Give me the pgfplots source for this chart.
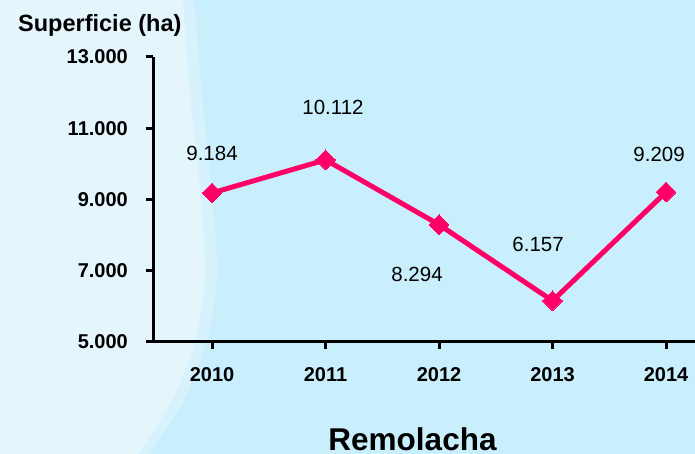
\documentclass[border=0pt]{standalone}
\usepackage{pgfplots}
\usepackage{pgfplotstable}
\pgfplotsset{compat=1.18}
\usepackage{fontspec}
\setmainfont{Liberation Sans}
\definecolor{bgR}{RGB}{201,238,252}
\definecolor{bgL}{RGB}{228,245,252}
\definecolor{bgM}{RGB}{215,242,252}
\definecolor{lineC}{RGB}{255,0,102}
\pgfplotstableread{
x y dx dy lab
2010 9184 0 39 9.184
2011 10112 7.5 52 10.112
2012 8294 -22 -50 8.294
2013 6157 -14.5 56 6.157
2014 9209 -7 38 9.209
}\datatable
\begin{document}
\begin{tikzpicture}
\path[use as bounding box] (0pt,0pt) rectangle (695pt,454pt);
\fill[bgR] (0pt,0pt) rectangle (695pt,454pt);
\fill[bgM] (0pt,0pt) -- plot[smooth] coordinates {(150pt,0pt) (184pt,54pt) (207pt,114pt) (217pt,180pt) (212pt,260pt) (202pt,360pt) (194pt,454pt)} -- (0pt,454pt) -- cycle;
\fill[bgL] (0pt,0pt) -- plot[smooth] coordinates {(138pt,0pt) (172pt,54pt) (195pt,114pt) (205pt,180pt) (200pt,260pt) (190pt,360pt) (183pt,454pt)} -- (0pt,454pt) -- cycle;
\begin{axis}[
  at={(153pt,112pt)}, anchor=south west,
  scale only axis, width=542pt, height=285pt,
  xmin=2009.48, xmax=2014.255, ymin=5000, ymax=13000,
  scaled ticks=false,
  axis x line=bottom, axis y line=left,
  axis line style={-, line width=3pt, black},
  tick align=outside,
  tickwidth=7pt,
  tick style={black, line width=3pt},
  xtick={2010,2011,2012,2013,2014},
  xticklabels={2010,2011,2012,2013,2014},
  ytick={5000,7000,9000,11000,13000},
  yticklabels={5.000,7.000,9.000,11.000,13.000},
  ticklabel style={font=\fontsize{20}{24}\selectfont\bfseries, inner sep=0pt},
  xticklabel style={anchor=north, yshift=-18pt},
  yticklabel style={anchor=east, xshift=-18pt},
  clip=false,
]
\pgfplotsinvokeforeach{2010,2011,2012,2013,2014}{
  \draw[black, line width=3pt] (axis cs:#1,5000) -- ++(0pt,-7pt);
}
\pgfplotsinvokeforeach{5000,7000,9000,11000,13000}{
  \draw[black, line width=3pt] (axis cs:2009.48,#1) -- ++(-7pt,0pt);
}
\addplot[lineC, line width=5pt, mark=square*, mark size=7pt,
  mark options={solid, fill=lineC, draw=lineC, line width=0pt, rotate=45},
  nodes near coords, point meta=explicit symbolic,
  visualization depends on={\thisrow{dx} \as \dx},
  visualization depends on={\thisrow{dy} \as \dy},
  nodes near coords style={anchor=center, xshift=\dx pt, yshift=\dy pt, text=black, font=\fontsize{20.5}{24}\selectfont, inner sep=0pt}]
  table[x=x, y=y, meta=lab] {\datatable};
\end{axis}
\node[anchor=base west, inner sep=0pt, font=\fontsize{23.5}{28}\selectfont\bfseries] at (18pt,422pt) {Superficie (ha)};
\node[anchor=base, inner sep=0pt, font=\fontsize{31.5}{36}\selectfont\bfseries] at (412.5pt,3pt) {Remolacha};
\end{tikzpicture}
\end{document}
